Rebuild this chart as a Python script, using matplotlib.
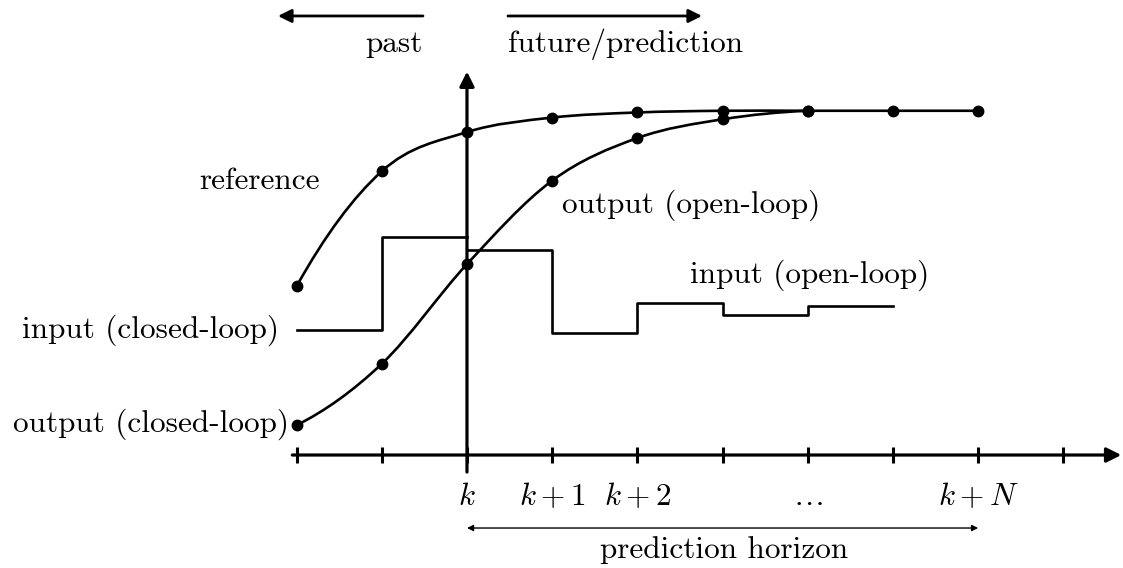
import numpy as np
import matplotlib.pyplot as plt
from matplotlib.path import Path
from matplotlib.patches import PathPatch, FancyArrowPatch

plt.rcParams['mathtext.fontset'] = 'cm'

# time steps relative to k
t_ref = [-2, -1, 0, 1, 2, 3, 4, 5, 6]
reference = [1.98, 3.33, 3.79, 3.96, 4.02, 4.04, 4.04, 4.04, 4.04]

t_out_cl = [-2, -1, 0]
output_cl = [0.35, 1.07, 2.24]
t_out_ol = [1, 2, 3, 4]
output_ol = [3.22, 3.72, 3.94, 4.04]

t_in_cl = [-2, -1, 0]
input_cl = [1.47, 2.56]
t_in_ol = [0, 1, 2, 3, 4, 5]
input_ol = [2.41, 1.43, 1.78, 1.64, 1.75]

ticks = list(range(-2, 8))
tick_pos = [0, 1, 2, 4, 6]
tick_lab = ['$k$', '$k+1$', '$k+2$', r'$\ldots$', '$k+N$']

FS = 22.5
txt = dict(fontfamily='cmr10', fontsize=FS, color='black')


def smooth(xs, ys):
    # smooth curve through the points (like tikz "plot[smooth]")
    p = np.column_stack([xs, ys]).astype(float)
    n = len(p)
    tang = np.zeros_like(p)
    tang[1:-1] = (p[2:] - p[:-2]) / 2
    tang[0] = (-3 * p[0] + 4 * p[1] - p[2]) / 2
    tang[-1] = (p[-3] - 4 * p[-2] + 3 * p[-1]) / 2
    verts = [p[0]]
    codes = [Path.MOVETO]
    for i in range(n - 1):
        verts += [p[i] + tang[i] / 3, p[i + 1] - tang[i + 1] / 3, p[i + 1]]
        codes += [Path.CURVE4] * 3
    return Path(verts, codes)


fig = plt.figure(figsize=(11.23, 5.68), dpi=100)
ax = fig.add_axes([0, 0, 1, 1])
ax.set_xlim(-5.481, 7.700)
ax.set_ylim(-1.326, 5.340)
ax.axis('off')

# axes
ax.add_patch(FancyArrowPatch((-2.05, 0), (7.68, 0), arrowstyle='-|>', mutation_scale=22,
                             lw=2.3, color='black', shrinkA=0, shrinkB=0))
ax.add_patch(FancyArrowPatch((0, -0.2), (0, 4.5), arrowstyle='-|>', mutation_scale=22,
                             lw=2.3, color='black', shrinkA=0, shrinkB=0))
for t in ticks:
    ax.plot([t, t], [-0.095, 0.095], color='black', lw=2.2, solid_capstyle='butt')

# reference
ax.add_patch(PathPatch(smooth(t_ref, reference), fill=False, lw=1.9, color='black'))
ax.plot(t_ref, reference, 'o', color='black', ms=7.5)

# output
out_t = t_out_cl + t_out_ol
out_v = output_cl + output_ol
ax.add_patch(PathPatch(smooth(out_t, out_v), fill=False, lw=1.9, color='black'))
ax.plot(out_t, out_v, 'o', color='black', ms=7.5)

# input
ax.step(t_in_cl, input_cl + [input_cl[-1]], where='post', color='black', lw=1.9)
ax.step(t_in_ol, input_ol + [input_ol[-1]], where='post', color='black', lw=1.9)


# labels
def px(x, y):
    return (x - 467) / 85.2, (455 - y) / 85.2


ax.text(*px(320, 189), 'reference', ha='right', va='baseline', **txt)
ax.text(*px(279, 338), 'input (closed-loop)', ha='right', va='baseline', **txt)
ax.text(*px(289, 432), 'output (closed-loop)', ha='right', va='baseline', **txt)
ax.text(*px(562, 213), 'output (open-loop)', ha='left', va='baseline', **txt)
ax.text(*px(690, 283), 'input (open-loop)', ha='left', va='baseline', **txt)
ax.text(*px(423, 52), 'past', ha='right', va='baseline', **txt)
ax.text(*px(508, 52), 'future/prediction', ha='left', va='baseline', **txt)

for t, lab in zip(tick_pos, tick_lab):
    ax.text(t, px(0, 505)[1], lab, ha='center', va='baseline', fontsize=FS)

# past / future arrows
ax.add_patch(FancyArrowPatch(px(423, 16), px(278, 16), arrowstyle='-|>', mutation_scale=20,
                             lw=2.0, color='black', shrinkA=0, shrinkB=0))
ax.add_patch(FancyArrowPatch(px(508, 16), px(702, 16), arrowstyle='-|>', mutation_scale=20,
                             lw=2.0, color='black', shrinkA=0, shrinkB=0))

# prediction horizon
ax.add_patch(FancyArrowPatch((0, px(0, 528)[1]), (6, px(0, 528)[1]), arrowstyle='<|-|>',
                             mutation_scale=9, lw=1.0, color='black', shrinkA=0, shrinkB=0))
ax.text(*px(724, 558), 'prediction horizon', ha='center', va='baseline', **txt)

fig.savefig('out.png', dpi=100)
